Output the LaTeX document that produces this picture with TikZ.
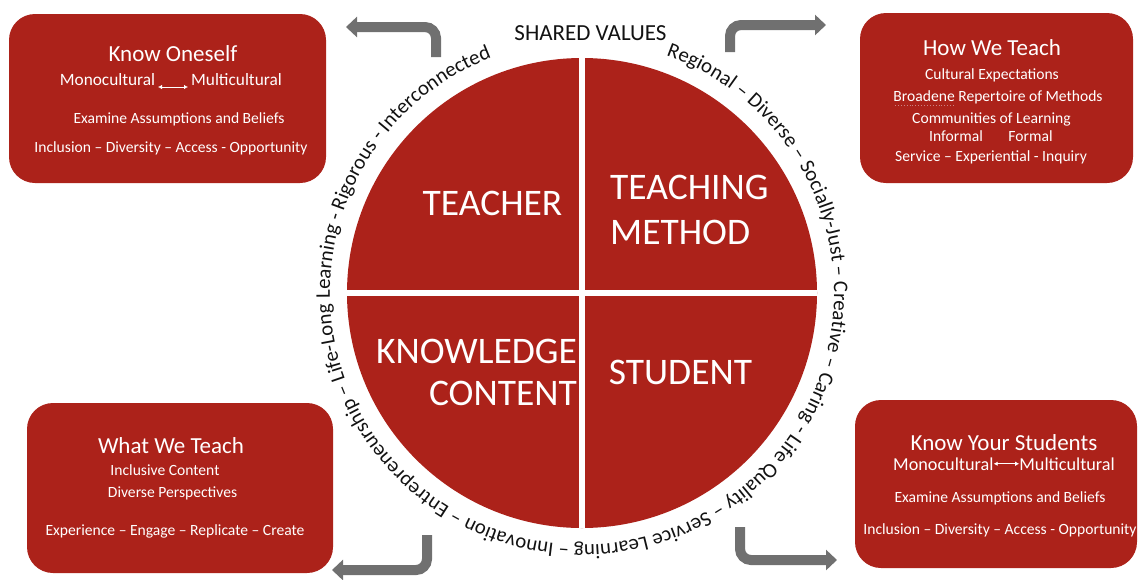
\documentclass[tikz,border=0pt]{standalone}
\usepackage{fontspec}
\setmainfont{Carlito}
\usetikzlibrary{decorations.text,arrows.meta}
\definecolor{brick}{RGB}{172,34,26}
\definecolor{arrowgray}{RGB}{112,112,112}
\definecolor{ink}{RGB}{18,18,18}
\definecolor{spellmark}{RGB}{205,130,130}

\begin{document}
\begin{tikzpicture}[x=1pt,y=1pt,
  panel/.style={fill=brick, draw=none, rounded corners=26pt, inner sep=0pt},
  boxtitle/.style={text=white, font=\fontsize{23}{27}\selectfont, anchor=base, inner sep=0pt},
  boxline/.style={text=white, font=\fontsize{15.6}{19}\selectfont, anchor=base, inner sep=0pt},
  quadlabel/.style={text=white, font=\fontsize{37.5}{44}\selectfont, inner sep=0pt},
  flow/.style={draw=arrowgray, line width=10pt, rounded corners=11pt,
    -{Triangle[width=20pt,length=11pt]}},
  tinyarrow/.style={draw=white, line width=0.8pt,
    {Latex[length=4pt,width=4.5pt]}-{Latex[length=4pt,width=4.5pt]}},
]
\useasboundingbox (0,0) rectangle (1138,-579);

% ---------- central wheel ----------
\node[circle, fill=brick, minimum size=470pt, inner sep=0pt] (wheel) at (582,-293) {};
\draw[white, line width=6pt] (wheel.north) -- (wheel.south);
\draw[white, line width=6pt] (wheel.west) -- (wheel.east);

\node[quadlabel, anchor=base] (teacher) at (492.5,-215.5) {TEACHER};
\node[quadlabel, anchor=base west] (teachingA) at (610,-199.5) {TEACHING};
\node[quadlabel, anchor=base west] (teachingB) at (610,-244.5) {METHOD};
\node[quadlabel, anchor=base east] (knowA) at (577,-363.5) {KNOWLEDGE};
\node[quadlabel, anchor=base east] (knowB) at (577,-405.5) {CONTENT};
\node[quadlabel, anchor=base] (student) at (680.5,-384.5) {STUDENT};

% ---------- values written round the wheel ----------
\node[anchor=base, inner sep=0pt, text=ink, font=\fontsize{23}{27}\selectfont]
  (shared) at (590.5,-40) {SHARED VALUES};
\path[decorate, decoration={text along path, text align=fit to path, text color=ink,
  text={|\fontsize{20.8}{21}\selectfont|Regional – Diverse – Socially-Just – Creative – Caring - Life Quality – Service Learning – Innovation – Entrepreneurship – Life-Long Learning - Rigorous - Interconnected}}]
  ([shift={(70.5:252)}]wheel.center) arc[start angle=70.5, end angle=-249, radius=252pt];

% ---------- corner panels ----------
\node[panel, minimum width=317pt, minimum height=169pt] (oneself) at (167.5,-98.5) {};
\node[boxtitle] (oneselfT) at (173,-61.5) {Know Oneself};
\node[boxline, font=\fontsize{17.3}{20}\selectfont] (oneselfMono) at (107.5,-85) {Monocultural};
\node[boxline, font=\fontsize{17.3}{20}\selectfont] (oneselfMulti) at (236.5,-85) {Multicultural};
\coordinate (oneselfArrL) at (158,-87);
\coordinate (oneselfArrR) at (188,-87);
\draw[tinyarrow] (oneselfArrL) -- (oneselfArrR);
\node[boxline] (oneselfA) at (179,-123) {Examine Assumptions and Beliefs};
\node[boxline] (oneselfB) at (171,-152) {Inclusion – Diversity – Access - Opportunity};

\node[panel, minimum width=273pt, minimum height=170pt] (how) at (996.5,-98) {};
\node[boxtitle] (howT) at (992,-55) {How We Teach};
\node[boxline] (howA) at (992,-79) {Cultural Expectations};
\node[boxline] (howB) at (998,-101.7) {Broadene Repertoire of Methods};
\coordinate (spellL) at (895,-105);
\coordinate (spellR) at (955,-105);
\draw[spellmark, line width=0.9pt, dotted] (spellL) -- (spellR);
\node[boxline] (howC) at (991.5,-123) {Communities of Learning};
\node[boxline] (howD) at (956,-141.7) {Informal};
\node[boxline] (howE) at (1030.5,-141.7) {Formal};
\node[boxline] (howF) at (991,-161.7) {Service – Experiential - Inquiry};

\node[panel, minimum width=306pt, minimum height=170pt] (what) at (180,-488) {};
\node[boxtitle] (whatT) at (171,-453) {What We Teach};
\node[boxline] (whatA) at (165,-475) {Inclusive Content};
\node[boxline] (whatB) at (172.5,-497) {Diverse Perspectives};
\node[boxline] (whatC) at (175,-535) {Experience – Engage – Replicate – Create};

\node[panel, minimum width=282pt, minimum height=168pt] (students) at (996,-484) {};
\node[boxtitle] (studentsT) at (1004,-450) {Know Your Students};
\node[boxline, font=\fontsize{18.2}{21}\selectfont, anchor=base west] (studentsMono) at (893,-470) {Monocultural};
\node[boxline, font=\fontsize{18.2}{21}\selectfont, anchor=base east] (studentsMulti) at (1115,-470) {Multicultural};
\draw[tinyarrow] (studentsMono.east) -- (studentsMulti.west);
\node[boxline] (studentsA) at (1000,-502) {Examine Assumptions and Beliefs};
\node[boxline] (studentsB) at (1000,-534) {Inclusion – Diversity – Access - Opportunity};

% ---------- bent arrows from the wheel out to the panels ----------
\coordinate (tlS) at (436,-57);  \coordinate (tlK) at (436,-27);  \coordinate (tlE) at (346,-27);
\coordinate (trS) at (730,-52);  \coordinate (trK) at (730,-25);  \coordinate (trE) at (826,-25);
\coordinate (blS) at (427,-535); \coordinate (blK) at (427,-570); \coordinate (blE) at (332,-570);
\coordinate (brS) at (740,-527); \coordinate (brK) at (740,-560); \coordinate (brE) at (837,-560);
\draw[flow] (tlS) -- (tlK) -- (tlE);
\draw[flow] (trS) -- (trK) -- (trE);
\draw[flow] (blS) -- (blK) -- (blE);
\draw[flow] (brS) -- (brK) -- (brE);
\end{tikzpicture}
\end{document}
